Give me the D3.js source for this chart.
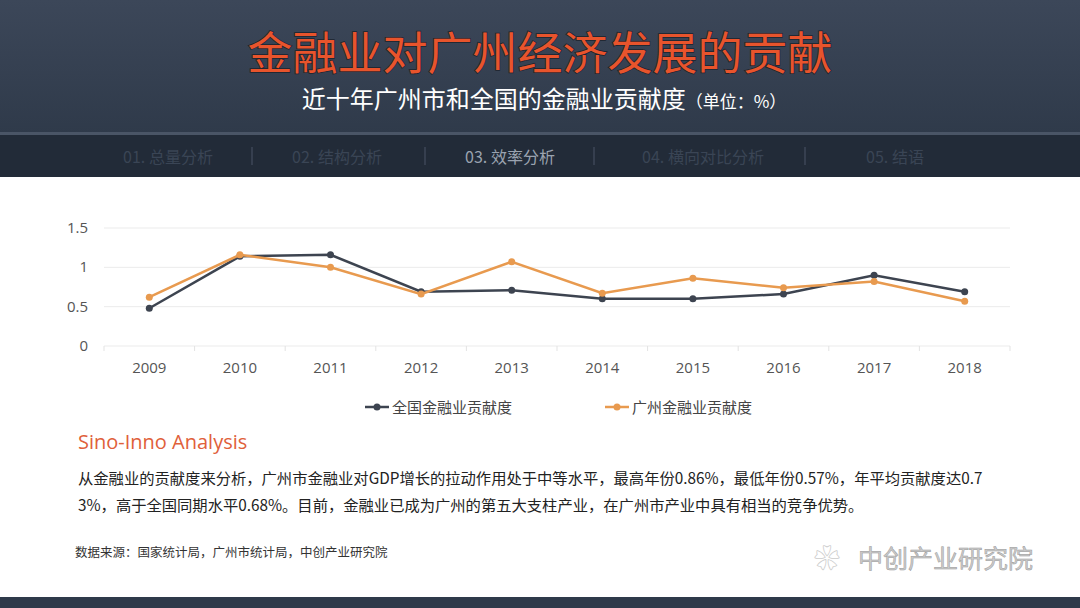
<!DOCTYPE html>
<html><head><meta charset="utf-8">
<script src="https://cdn.jsdelivr.net/npm/d3@7/dist/d3.min.js"></script>
<style>body{margin:0;background:#fff;font-family:"Noto Sans CJK SC","Noto Sans",sans-serif}</style>
</head><body><svg id="c" width="1080" height="608"></svg>
<script>
const years=["2009","2010","2011","2012","2013","2014","2015","2016","2017","2018"];
const national=[0.48,1.14,1.16,0.69,0.71,0.60,0.60,0.66,0.90,0.69];
const guangzhou=[0.62,1.16,1.00,0.66,1.07,0.67,0.86,0.74,0.82,0.57];
const yTicks=[0,0.5,1,1.5];
const navItems=["01. 总量分析","02. 结构分析","03. 效率分析","04. 横向对比分析","05. 结语"];
const seriesNames=["全国金融业贡献度","广州金融业贡献度"];

const svg=d3.select("#c");
const defs=svg.append("defs");
const g1=defs.append("linearGradient").attr("id","hd").attr("x1",0).attr("x2",0).attr("y1",0).attr("y2",1);
g1.append("stop").attr("offset",0).attr("stop-color","#3c4759");
g1.append("stop").attr("offset",1).attr("stop-color","#2f3a4a");
svg.append("rect").attr("width",1080).attr("height",135).attr("fill","url(#hd)");
svg.append("rect").attr("y",135).attr("width",1080).attr("height",42).attr("fill","#222b38");
svg.append("rect").attr("y",132).attr("width",1080).attr("height",3).attr("fill","#4a5566");
svg.append("text").attr("x",540).attr("y",70).attr("text-anchor","middle").attr("font-size",45).attr("fill","#e8542c")
 .attr("style","paint-order:stroke").attr("stroke","#1d232d").attr("stroke-width",1.5).text("金融业对广州经济发展的贡献");
const st=svg.append("text").attr("x",544).attr("y",108).attr("text-anchor","middle").attr("fill","#fff");
st.append("tspan").attr("font-size",24).text("近十年广州市和全国的金融业贡献度");
st.append("tspan").attr("font-size",17).text("（单位：%）");
const navX=[168,337,510,703,895];
navItems.forEach((t,i)=>{svg.append("text").attr("x",navX[i]).attr("y",163).attr("text-anchor","middle").attr("font-size",16)
 .attr("fill",i==2?"#9aa3b0":"#3a4555").text(t);});
[252,425,594,805].forEach(x=>svg.append("line").attr("x1",x).attr("x2",x).attr("y1",147).attr("y2",165).attr("stroke","#4a5566"));

const x=d3.scaleBand().domain(years).range([104,1010]);
const y=d3.scaleLinear().domain([0,1.5]).range([346,228]);
yTicks.forEach(t=>{svg.append("line").attr("x1",104).attr("x2",1010).attr("y1",y(t)).attr("y2",y(t)).attr("stroke","#ebebeb");
 svg.append("text").attr("x",88).attr("y",y(t)+5).attr("text-anchor","end").attr("font-size",15).attr("fill","#555").attr("font-family","Open Sans").text(t);});
years.forEach((yr,i)=>{svg.append("line").attr("x1",x(yr)).attr("x2",x(yr)).attr("y1",346).attr("y2",351).attr("stroke","#e3e3e3");
 svg.append("text").attr("x",x(yr)+x.bandwidth()/2).attr("y",373).attr("text-anchor","middle").attr("font-size",15).attr("fill","#555").attr("font-family","Open Sans").text(yr);});
svg.append("line").attr("x1",1010).attr("x2",1010).attr("y1",346).attr("y2",351).attr("stroke","#e3e3e3");
const cx=yr=>x(yr)+x.bandwidth()/2;
[[national,"#3d4450"],[guangzhou,"#e89a4f"]].forEach(([d,c])=>{
 svg.append("path").attr("d",d3.line().x((v,i)=>cx(years[i])).y(v=>y(v))(d)).attr("fill","none").attr("stroke",c).attr("stroke-width",2.5);
 d.forEach((v,i)=>svg.append("circle").attr("cx",cx(years[i])).attr("cy",y(v)).attr("r",3.5).attr("fill",c));
});
[[365,"#3d4450"],[605,"#e89a4f"]].forEach(([lx,c],i)=>{
 svg.append("line").attr("x1",lx).attr("x2",lx+24).attr("y1",407).attr("y2",407).attr("stroke",c).attr("stroke-width",2.5);
 svg.append("circle").attr("cx",lx+12).attr("cy",407).attr("r",3.5).attr("fill",c);
 svg.append("text").attr("x",lx+27).attr("y",413).attr("font-size",15).attr("fill","#444").text(seriesNames[i]);
});
svg.append("text").attr("x",78).attr("y",449).attr("font-size",20).attr("fill","#e0603a").attr("font-family","Open Sans").text("Sino-Inno Analysis");
svg.append("text").attr("x",78).attr("y",484).attr("font-size",15.3).attr("fill","#222").text("从金融业的贡献度来分析，广州市金融业对GDP增长的拉动作用处于中等水平，最高年份0.86%，最低年份0.57%，年平均贡献度达0.7");
svg.append("text").attr("x",78).attr("y",511).attr("font-size",15.3).attr("fill","#222").text("3%，高于全国同期水平0.68%。目前，金融业已成为广州的第五大支柱产业，在广州市产业中具有相当的竞争优势。");
svg.append("text").attr("x",75).attr("y",557).attr("font-size",12.5).attr("fill","#333").text("数据来源：国家统计局，广州市统计局，中创产业研究院");
svg.append("text").attr("x",858).attr("y",568).attr("font-size",25).attr("fill","#ccc").attr("stroke","#999").attr("stroke-width",0.5).text("中创产业研究院");
svg.append("text").attr("x",814).attr("y",568).attr("font-size",26).attr("fill","#ccc").text("❀");
svg.append("rect").attr("y",597).attr("width",1080).attr("height",11).attr("fill","#2f3a4a");
</script></body></html>
